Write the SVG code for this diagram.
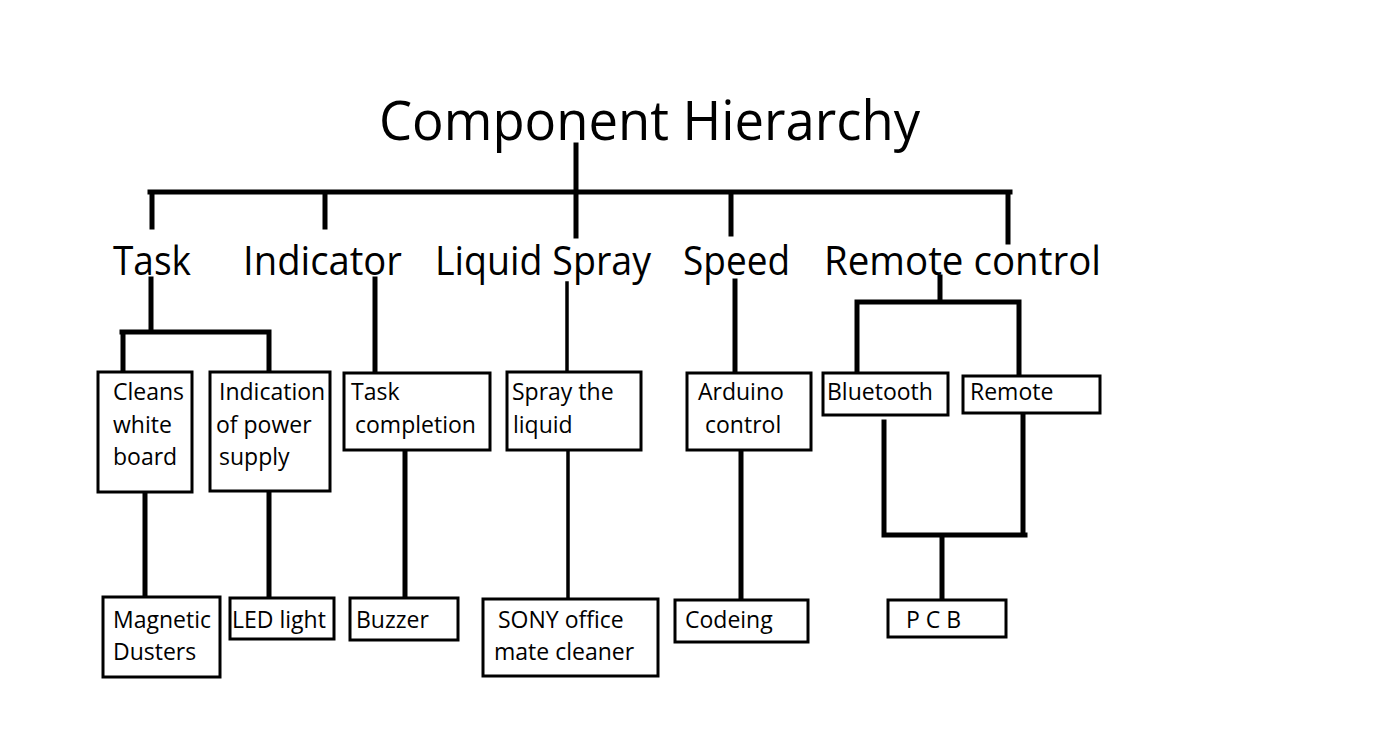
<svg xmlns="http://www.w3.org/2000/svg" width="1382" height="744" viewBox="0 0 1382 744">
<style>
.bg{fill:#fff}
.ln{stroke:#000;stroke-width:5;fill:none;stroke-linecap:square}
.thin{stroke-width:3.5}
.box{fill:#fff;stroke:#000;stroke-width:3}
.t{font-family:"Open Sans","Liberation Sans",sans-serif;fill:#000}
.h{font-size:40px}
.s{font-size:23px}
</style>
<rect class="bg" x="0" y="0" width="1382" height="744"/>
<g id="connectors">
<path class="ln" d="M576 145V192M150 192H1010M152 192V227M325 192V227M576 192V236M731 192V234M1008 192V242"/>
<path class="ln" d="M151 279V332M122 332H269M123 332V371M269 332V369"/>
<path class="ln" d="M375 279V372"/>
<path class="ln thin" d="M567 283V372"/>
<path class="ln" d="M735 281V373"/>
<path class="ln" d="M940 277V302M857 302H1019M857 302V373M1019 302V376"/>
<path class="ln" d="M145 492V597M269 491V598M405 450V598"/>
<path class="ln thin" d="M568 450V600"/>
<path class="ln" d="M741 453V600"/>
<path class="ln" d="M884 422V535H1025M1023 413V535M942 535V600"/>
</g>
<g id="title"><text class="t" x="379" y="140" font-size="54" textLength="541" lengthAdjust="spacingAndGlyphs">Component Hierarchy</text></g>
<g id="task"><text class="t h" x="113" y="275" textLength="78" lengthAdjust="spacingAndGlyphs">Task</text></g>
<g id="indicator"><text class="t h" x="243" y="275" textLength="159" lengthAdjust="spacingAndGlyphs">Indicator</text></g>
<g id="liquid-spray"><text class="t h" x="435" y="275" textLength="216" lengthAdjust="spacingAndGlyphs">Liquid Spray</text></g>
<g id="speed"><text class="t h" x="683" y="275" textLength="107" lengthAdjust="spacingAndGlyphs">Speed</text></g>
<g id="remote-control"><text class="t h" x="824" y="275" textLength="277" lengthAdjust="spacingAndGlyphs">Remote control</text></g>
<g id="cleans"><rect class="box" x="98" y="372" width="94" height="120"/><text class="t s" x="113" y="400">Cleans</text><text class="t s" x="113" y="433">white</text><text class="t s" x="113" y="465">board</text></g>
<g id="indication"><rect class="box" x="210" y="372" width="120" height="119"/><text class="t s" x="219" y="400">Indication</text><text class="t s" x="216" y="433">of power</text><text class="t s" x="219" y="465">supply</text></g>
<g id="task-completion"><rect class="box" x="344" y="373" width="146" height="77"/><text class="t s" x="351" y="400">Task</text><text class="t s" x="355" y="433">completion</text></g>
<g id="spray-liquid"><rect class="box" x="507" y="372" width="134" height="78"/><text class="t s" x="512" y="400">Spray the</text><text class="t s" x="513" y="433">liquid</text></g>
<g id="arduino"><rect class="box" x="687" y="373" width="124" height="77"/><text class="t s" x="698" y="400">Arduino</text><text class="t s" x="705" y="433">control</text></g>
<g id="bluetooth"><rect class="box" x="823" y="373" width="125" height="42"/><text class="t s" x="827" y="400">Bluetooth</text></g>
<g id="remote"><rect class="box" x="963" y="376" width="137" height="37"/><text class="t s" x="970" y="400">Remote</text></g>
<g id="magnetic"><rect class="box" x="103" y="597" width="117" height="80"/><text class="t s" x="113" y="628">Magnetic</text><text class="t s" x="113" y="660">Dusters</text></g>
<g id="led"><rect class="box" x="230" y="598" width="104" height="41"/><text class="t s" x="232" y="628">LED light</text></g>
<g id="buzzer"><rect class="box" x="350" y="598" width="108" height="42"/><text class="t s" x="356" y="628">Buzzer</text></g>
<g id="sony"><rect class="box" x="483" y="599" width="175" height="77"/><text class="t s" x="498" y="628">SONY office</text><text class="t s" x="494" y="660">mate cleaner</text></g>
<g id="codeing"><rect class="box" x="675" y="600" width="133" height="42"/><text class="t s" x="685" y="628">Codeing</text></g>
<g id="pcb"><rect class="box" x="888" y="600" width="118" height="37"/><text class="t s" x="906" y="628">P C B</text></g>
</svg>
